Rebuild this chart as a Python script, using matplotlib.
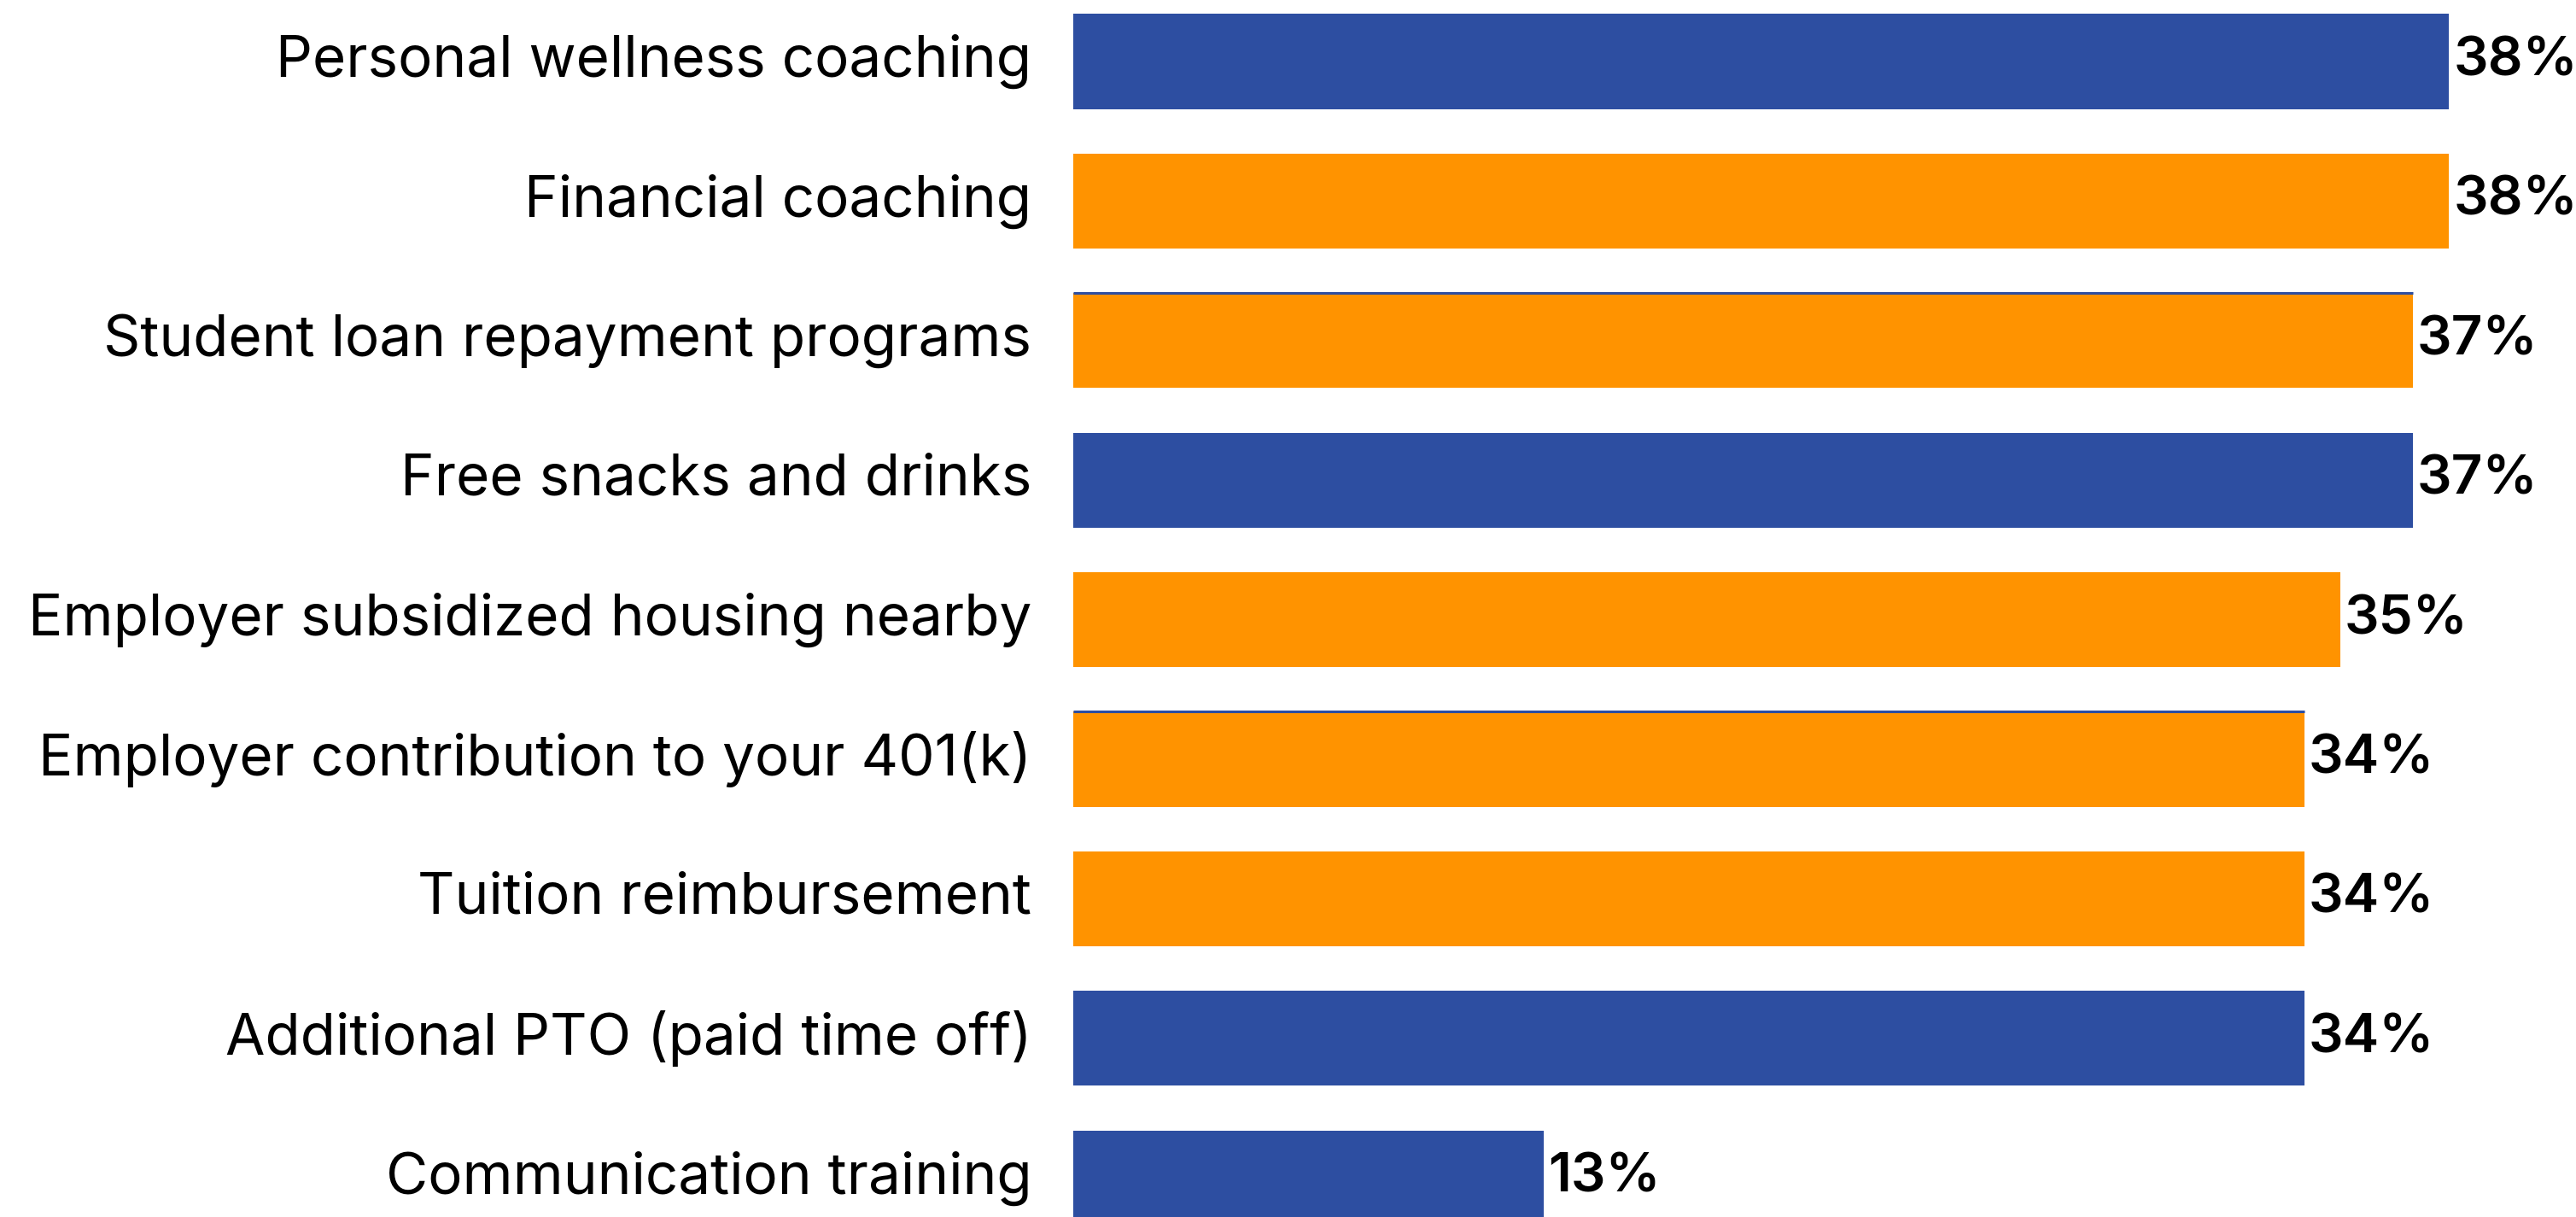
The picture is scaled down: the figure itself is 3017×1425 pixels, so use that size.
import matplotlib
matplotlib.use('Agg')
import matplotlib.pyplot as plt
import matplotlib.transforms as mtransforms

# survey results, top to bottom
categories = ['Personal wellness coaching',
              'Financial coaching',
              'Student loan repayment programs',
              'Free snacks and drinks',
              'Employer subsidized housing nearby',
              'Employer contribution to your 401(k)',
              'Tuition reimbursement',
              'Additional PTO (paid time off)',
              'Communication training']
values = [38, 38, 37, 37, 35, 34, 34, 34, 13]
groups = ['blue', 'orange', 'orange', 'blue', 'orange', 'orange', 'orange', 'blue', 'blue']

palette = {'blue': '#2D4EA1', 'orange': '#FF9300'}
bar_height = 0.68
edge_rows = [2, 5]     # orange bars with a thin blue rule on top

plt.rcParams['font.family'] = ['Inter', 'DejaVu Sans']

fig = plt.figure(figsize=(30.17, 14.25), dpi=100)
ax = fig.add_axes([0.4166, 0.0, 0.5834, 1.0])

ypos = list(range(len(categories)))
colors = [palette[g] for g in groups]
ax.barh(ypos, values, height=bar_height, color=colors, linewidth=0)

for i in edge_rows:
    ax.hlines(i - bar_height / 2, 0, values[i], color=palette['blue'], linewidth=2.2)

for y, v in zip(ypos, values):
    ax.text(v + 0.12, y, f'{v}%', va='center', ha='left',
            fontsize=46, fontweight='semibold', color='black')

ax.set_xlim(0, 41.51)
ax.set_ylim(8.280, -0.4406)
ax.set_yticks(ypos)
ax.set_yticklabels(categories, fontsize=48.5, color='black')
ax.tick_params(axis='y', length=0, pad=35)
ax.set_xticks([])
for s in ax.spines.values():
    s.set_visible(False)

# nudge category labels up a little
lift = mtransforms.ScaledTranslation(0, 5 / 72, fig.dpi_scale_trans)
for lbl in ax.get_yticklabels():
    lbl.set_transform(lbl.get_transform() + lift)

fig.savefig('out.png', dpi=100, facecolor='white')
